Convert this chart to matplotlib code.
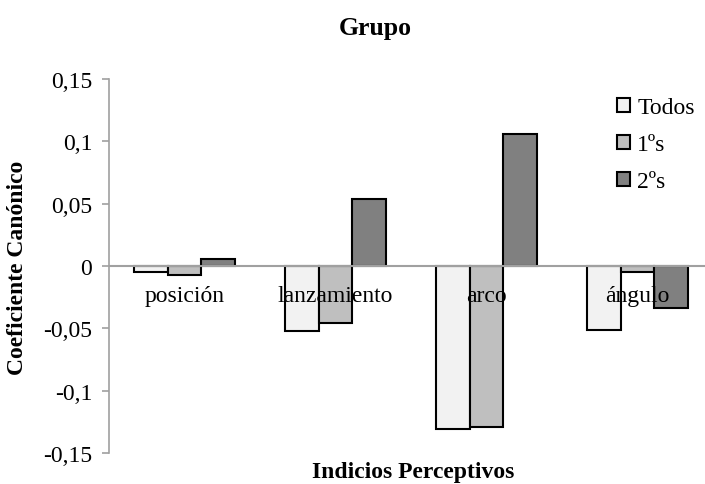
import matplotlib.pyplot as plt
import numpy as np

#---------Daten--------
categorias = ["posición", "lanzamiento", "arco", "ángulo"]
series = ["Todos", "1ºs", "2ºs"]
todos = [-0.0050, -0.052, -0.1308, -0.0513]
primeros = [-0.0075, -0.046, -0.1294, -0.0047]
segundos = [0.0053, 0.054, 0.1057, -0.0333]
colores = ["#f2f2f2", "#bfbfbf", "#808080"]
yticks = [-0.15, -0.1, -0.05, 0, 0.05, 0.1, 0.15]
yticklabels = ["-0,15", "-0,1", "-0,05", "0", "0,05", "0,1", "0,15"]

plt.rcParams['font.family'] = ['Liberation Serif', 'DejaVu Serif']

W, H = 705, 485
fig = plt.figure(figsize=(W / 100, H / 100), dpi=100)
# Zeichenbereich reicht rechts ueber den Bildrand hinaus (wie im Original)
ax = fig.add_axes([109 / W, 1 - 454 / H, 1 - 109 / W, (454 - 80) / H])

x = np.arange(len(categorias))
ancho = 0.224
for i, (werte, farbe, name) in enumerate(zip([todos, primeros, segundos], colores, series)):
    ax.bar(x + (i - 1) * ancho, werte, ancho, color=farbe, edgecolor="black",
           linewidth=1.5, label=name, zorder=2)

ax.set_ylim(-0.15, 0.15)
ax.set_xlim(-0.5, 3.447)
ax.set_yticks(yticks)
ax.set_yticklabels(yticklabels, fontsize=17)
ax.axhline(0, color="#a0a0a0", linewidth=1.5, zorder=3)

for s in ["top", "right", "bottom"]:
    ax.spines[s].set_visible(False)
ax.spines["left"].set_color("#a0a0a0")
ax.spines["left"].set_linewidth(1.2)
ax.tick_params(axis="y", direction="out", length=5, color="#a0a0a0", width=1.2, pad=7)
ax.set_xticks([])

for xi, name in zip(x, categorias):
    ax.text(xi, -0.0234, name, ha="center", va="center", fontsize=17, zorder=4)

fig.text(18 / W, 1 - 267.5 / H, "Coeficiente Canónico", rotation=90, ha="center",
         va="center", fontsize=17, fontweight="bold")
fig.text(413 / W, 1 - 473 / H, "Indicios Perceptivos", ha="center", va="center",
         fontsize=17, fontweight="bold")
fig.text(375 / W, 1 - 28 / H, "Grupo", ha="center", va="center",
         fontsize=18.5, fontweight="bold")

leg = ax.legend(loc="upper left", bbox_to_anchor=(617 / W, 1 - 98 / H),
                bbox_transform=fig.transFigure, frameon=False,
                fontsize=17, handlelength=0.55, handleheight=0.55, handletextpad=0.3,
                labelspacing=0.68, borderaxespad=0, borderpad=0)

fig.savefig("out.png", dpi=100)
